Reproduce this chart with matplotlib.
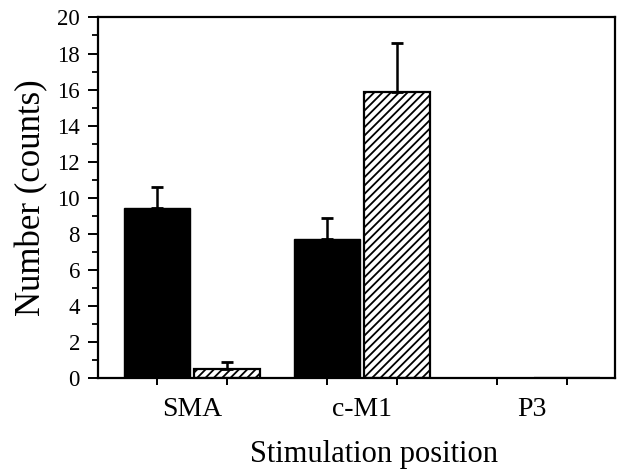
import matplotlib
matplotlib.use("Agg")
import matplotlib.pyplot as plt
import numpy as np

categories = ["SMA", "c-M1", "P3"]
series_a = [9.43, 7.68, 0.0]
series_a_err = [1.14, 1.21, 0.0]
series_b = [0.5, 15.89, 0.0]
series_b_err = [0.39, 2.69, 0.0]
yticks = [0, 2, 4, 6, 8, 10, 12, 14, 16, 18, 20]

plt.rcParams['font.family'] = ['Liberation Serif', 'DejaVu Serif']
plt.rcParams['hatch.linewidth'] = 1.3

fig = plt.figure(figsize=(6.19, 4.70), dpi=100)
ax = fig.add_axes([0.1583, 0.1964, 0.9935 - 0.1583, 0.9628 - 0.1964])

x = np.arange(len(categories))
w = 0.39
off = 0.206

ax.bar(x - off, series_a, w, color='black', edgecolor='black', linewidth=1.0)
ax.bar(x + off, series_b, w, color='white', edgecolor='black', linewidth=1.6, hatch='////')

ekw = dict(fmt='none', ecolor='black', elinewidth=1.8, capsize=4.5, capthick=2.0)
ax.errorbar(x[:2] - off, series_a[:2], yerr=[[0, 0], series_a_err[:2]], **ekw)
ax.errorbar(x[:2] + off, series_b[:2], yerr=[[0, 0], series_b_err[:2]], **ekw)

ax.set_xlim(-0.553, 2.488)
ax.set_ylim(0, 20)
ax.set_yticks(yticks)
ax.set_yticks(np.arange(1, 20, 2), minor=True)
ax.tick_params(axis='y', which='major', length=7, width=1.4, labelsize=16.5, direction='out', pad=6)
ax.tick_params(axis='y', which='minor', length=4, width=1.3, direction='out')

ax.set_xticks(np.concatenate([x - off, x + off]))
ax.set_xticklabels([])
ax.set_xticks(x, minor=True)
ax.set_xticklabels(categories, minor=True)
ax.tick_params(axis='x', which='major', length=5, width=1.4, direction='out')
ax.tick_params(axis='x', which='minor', length=0, labelsize=20, pad=14)

for s in ax.spines.values():
    s.set_linewidth(1.6)

ax.set_ylabel("Number (counts)", fontsize=25)
ax.yaxis.set_label_coords(-0.097, 0.5)
ax.set_xlabel("Stimulation position", fontsize=22)
ax.xaxis.set_label_coords(0.534, -0.174)

fig.savefig("out.png", dpi=100)
